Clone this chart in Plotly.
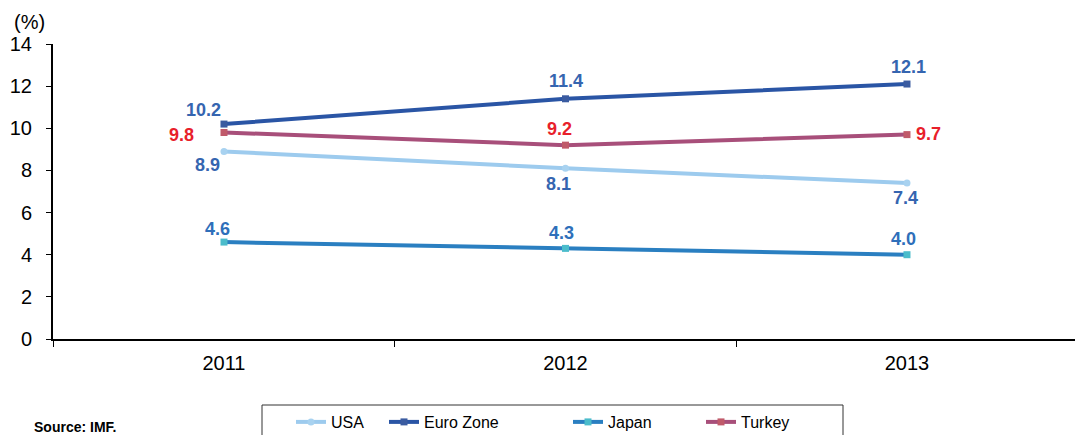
import plotly.graph_objects as go

years = ["2011", "2012", "2013"]
usa = [8.9, 8.1, 7.4]
euro = [10.2, 11.4, 12.1]
japan = [4.6, 4.3, 4.0]
turkey = [9.8, 9.2, 9.7]
y_ticks = [0, 2, 4, 6, 8, 10, 12, 14]

FONT = "Liberation Sans, Arial, sans-serif"
BLUE_LBL = "#3565B0"
RED_LBL = "#E8202A"

L, T, PW, PH = 53, 44, 1022, 295

def px_x(x):
    return (x - L) / PW

def px_y(y):
    return 1 - (y - T) / PH

fig = go.Figure()
annots = []
legend_layouts = {}

def add(name, vals, line_color, marker_color, text_color, offsets, legend_id, legend_px, symbol="square"):
    fig.add_trace(go.Scatter(
        x=years, y=vals, name=name, mode="lines+markers",
        line=dict(color=line_color, width=4),
        marker=dict(color=marker_color, size=7, symbol=symbol),
        legend=legend_id,
    ))
    legend_layouts[legend_id] = dict(
        orientation="h", x=px_x(legend_px), y=px_y(405),
        xanchor="left", yanchor="top",
        borderwidth=0, bgcolor="rgba(0,0,0,0)",
        font=dict(family=FONT, size=16, color="black"),
        itemwidth=30,
    )
    for i, (yv, (dx, dy)) in enumerate(zip(vals, offsets)):
        annots.append(dict(
            x=i, y=yv, xref="x", yref="y", text=f"<b>{yv:.1f}</b>",
            showarrow=False, xanchor="center", yanchor="middle",
            xshift=dx, yshift=-dy,
            font=dict(family=FONT, size=18, color=text_color),
        ))

add("USA", usa, "#9DCBEE", "#A8D2F0", BLUE_LBL, [(-16, 14), (-7, 16), (-1, 15)], "legend", 291, symbol="circle")
add("Euro Zone", euro, "#2A55A5", "#3A5BA0", BLUE_LBL, [(-20, -14), (1, -18), (2, -17)], "legend2", 384)
add("Japan", japan, "#2A7FC1", "#4BBCCB", "#2E6FBA", [(-6, -13), (-4, -15), (-3, -16)], "legend3", 568)
add("Turkey", turkey, "#A84F7A", "#C05A6A", RED_LBL, [(-42, 2), (-6, -16), (22, -1)], "legend4", 701)

annots += [
    dict(text="(%)", x=px_x(29), y=px_y(22), xref="paper", yref="paper",
         showarrow=False, xanchor="center", yanchor="middle",
         font=dict(family=FONT, size=20, color="black")),
    dict(text="<b>Source: IMF.</b>", x=px_x(32), y=px_y(427), xref="paper", yref="paper",
         showarrow=False, xanchor="left", yanchor="middle",
         font=dict(family=FONT, size=14, color="black")),
]

fig.update_layout(
    width=1075, height=435,
    margin=dict(l=L, r=0, t=T, b=435 - T - PH, autoexpand=False),
    paper_bgcolor="white", plot_bgcolor="white",
    font=dict(family=FONT, color="black"),
    showlegend=True,
    shapes=[
        dict(type="rect", xref="paper", yref="paper",
             x0=px_x(262), x1=px_x(843), y0=px_y(405), y1=px_y(445),
             line=dict(color="#333", width=1), fillcolor="rgba(0,0,0,0)", layer="below"),
    ],
    annotations=annots,
    **legend_layouts,
)

fig.update_xaxes(
    type="category", range=[-0.5007, 2.492], showgrid=False, zeroline=False,
    showline=True, linecolor="black", linewidth=2,
    ticks="outside", tickson="boundaries", ticklen=6, tickcolor="black",
    tickfont=dict(family=FONT, size=20, color="black"),
    ticklabelstandoff=5,
)
fig.update_yaxes(
    range=[0, 14], tickvals=y_ticks, showgrid=False, zeroline=False,
    showline=True, linecolor="black", linewidth=2,
    ticks="outside", ticklen=5, tickcolor="black",
    tickfont=dict(family=FONT, size=20, color="black"),
    ticklabelstandoff=10,
)

fig.write_html(
    "out.html",
    config={"displayModeBar": False},
    post_script="document.body.style.margin='0';document.body.style.overflow='hidden';",
)
